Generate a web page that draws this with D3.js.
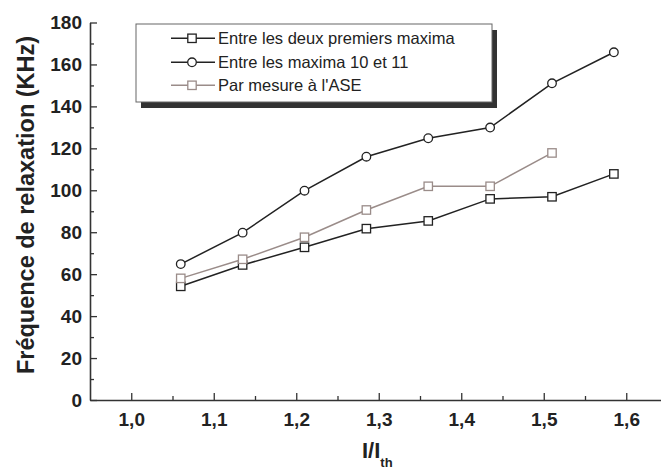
<!DOCTYPE html>
<html>
<head>
<meta charset="utf-8">
<script src="https://cdn.jsdelivr.net/npm/d3@7"></script>
<style>
  html, body { margin: 0; padding: 0; background: #fff; }
  svg { display: block; }
  text { font-family: "Liberation Sans", Arial, Helvetica, sans-serif; }
</style>
</head>
<body>
<svg id="chart" width="661" height="470"></svg>
<script>
// ---- data ----
const ratioValues = [1.06, 1.135, 1.21, 1.285, 1.36, 1.435, 1.51, 1.585];
const deuxPremiersMaxima = [54.2, 64.4, 72.8, 81.7, 85.4, 95.9, 96.9, 107.8];
const maxima10et11 = [64.8, 79.8, 99.8, 116.0, 124.8, 129.9, 151.0, 165.8];
const mesureASE = [58.0, 67.1, 77.6, 90.6, 101.9, 101.9, 117.8];
const seriesNames = ["Entre les deux premiers maxima", "Entre les maxima 10 et 11", "Par mesure à l'ASE"];
const xTicks = [1.0, 1.1, 1.2, 1.3, 1.4, 1.5, 1.6];
const xMinorTicks = [1.05, 1.15, 1.25, 1.35, 1.45, 1.55, 1.65];
const yTicks = [0, 20, 40, 60, 80, 100, 120, 140, 160, 180];
const yMinorTicks = [10, 30, 50, 70, 90, 110, 130, 150, 170];
const xTitle = "I/I";
const xTitleSub = "th";
const yTitle = "Fréquence de relaxation (KHz)";

const svg = d3.select("#chart");
const x = d3.scaleLinear().domain([0.95, 1.65]).range([90, 667.5]);
const y = d3.scaleLinear().domain([0, 180]).range([400, 22.5]);
const axisColor = "#333";

const fmt = d => d3.format(".1f")(d).replace(".", ",");

// minor ticks
const gxm = svg.append("g").attr("transform", "translate(0,400)")
  .call(d3.axisBottom(x).tickValues(xMinorTicks).tickSizeInner(-4).tickSizeOuter(0).tickFormat(""));
const gym = svg.append("g").attr("transform", "translate(90,0)")
  .call(d3.axisLeft(y).tickValues(yMinorTicks).tickSizeInner(-4).tickSizeOuter(0).tickFormat(""));
[gxm, gym].forEach(g => { g.select(".domain").remove(); g.selectAll("line").attr("stroke", axisColor).attr("stroke-width", 1.3); });

// major axes
const gx = svg.append("g").attr("transform", "translate(0,400)")
  .call(d3.axisBottom(x).tickValues(xTicks).tickSizeInner(-7).tickSizeOuter(0).tickPadding(13).tickFormat(fmt));
const gy = svg.append("g").attr("transform", "translate(90,0)")
  .call(d3.axisLeft(y).tickValues(yTicks).tickSizeInner(-7).tickSizeOuter(0).tickPadding(8).tickFormat(d3.format("d")));
[gx, gy].forEach(g => {
  g.select(".domain").attr("stroke", axisColor).attr("stroke-width", 1.6);
  g.selectAll("line").attr("stroke", axisColor).attr("stroke-width", 1.3);
  g.selectAll("text").attr("fill", "#222").style("font-size", "19px").style("font-weight", "bold")
    .style("font-family", "'Liberation Sans', Arial, sans-serif");
});

// axis titles
const xt = svg.append("text").attr("x", 362).attr("y", 458)
  .attr("fill", "#222").style("font-size", "22px").style("font-weight", "bold");
xt.append("tspan").text(xTitle);
xt.append("tspan").attr("dy", 8.5).style("font-size", "13px").text(xTitleSub);

svg.append("text").attr("transform", "translate(34,205) rotate(-90)")
  .attr("text-anchor", "middle").attr("fill", "#222")
  .style("font-size", "23.5px").style("font-weight", "bold").text(yTitle);

// series
const series = [
  { name: seriesNames[0], values: deuxPremiersMaxima, color: "#222", marker: "square" },
  { name: seriesNames[1], values: maxima10et11, color: "#222", marker: "circle" },
  { name: seriesNames[2], values: mesureASE, color: "#9a8c89", marker: "square" }
];

const line = d3.line().x(d => x(d[0])).y(d => y(d[1]));

function drawMarker(g, type, cx, cy, color) {
  if (type === "square") {
    g.append("rect").attr("x", cx - 4.2).attr("y", cy - 4.2).attr("width", 8.4).attr("height", 8.4)
      .attr("fill", "#fff").attr("stroke", color).attr("stroke-width", 1.3);
  } else {
    g.append("circle").attr("cx", cx).attr("cy", cy).attr("r", 4.3)
      .attr("fill", "#fff").attr("stroke", color).attr("stroke-width", 1.3);
  }
}

series.forEach(s => {
  const pts = s.values.map((v, i) => [ratioValues[i], v]);
  const g = svg.append("g");
  g.append("path").datum(pts).attr("d", line).attr("fill", "none")
    .attr("stroke", s.color).attr("stroke-width", 1.5);
  pts.forEach(p => drawMarker(g, s.marker, x(p[0]), y(p[1]), s.color));
});

// legend
const lg = svg.append("g");
lg.append("rect").attr("x", 141).attr("y", 30).attr("width", 356).attr("height", 78).attr("fill", "#333");
lg.append("rect").attr("x", 136).attr("y", 24).attr("width", 356).attr("height", 78)
  .attr("fill", "#fff").attr("stroke", "#666").attr("stroke-width", 1);
const rowY = [38.3, 62.3, 85.3];
series.forEach((s, i) => {
  const cy = rowY[i];
  lg.append("line").attr("x1", 171).attr("x2", 215).attr("y1", cy).attr("y2", cy)
    .attr("stroke", s.color).attr("stroke-width", 1.5);
  drawMarker(lg, s.marker, 192, cy, s.color);
  lg.append("text").attr("x", 218).attr("y", cy + 5.8).attr("fill", "#222")
    .style("font-size", "16.5px").text(s.name);
});
</script>
</body>
</html>
